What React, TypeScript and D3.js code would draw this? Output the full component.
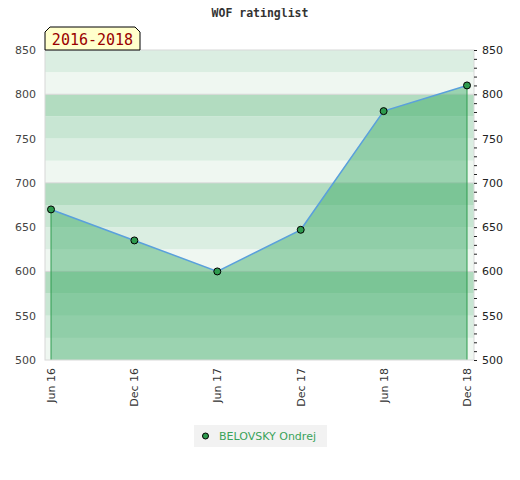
import React from "react";
import * as d3 from "d3";

const dates = ["2016-06-01", "2016-12-01", "2017-06-01", "2017-12-01", "2018-06-01", "2018-12-01"];
const tickLabels = ["Jun 16", "Dec 16", "Jun 17", "Dec 17", "Jun 18", "Dec 18"];
const ratings = [670, 635, 600, 647, 781, 810];
const yTicks = [500, 550, 600, 650, 700, 750, 800, 850];
const playerName = "BELOVSKY Ondrej";
const periodLabel = "2016-2018";

const width = 520;
const height = 480;
const plot = { left: 45, right: 474, top: 50, bottom: 360 };

// stripe colours by (value mod 100) of the band's lower edge
const stripeColors: Record<number, string> = {
  0: "#eff7f1",
  25: "#dbeee2",
  50: "#c8e6d3",
  75: "#b2dcc0",
};

const App: React.FC = () => {
  const parse = d3.timeParse("%Y-%m-%d");
  const points = dates.map((d, i) => ({ date: parse(d)!, value: ratings[i] }));

  const x = d3
    .scaleTime()
    .domain(d3.extent(points, (d) => d.date) as [Date, Date])
    .range([plot.left + 6, plot.right - 7]);
  const y = d3.scaleLinear().domain([500, 850]).range([plot.bottom, plot.top]);

  const bands = d3.range(500, 850, 25);
  const minorTicks = d3.range(500, 851, 10);

  const line = d3
    .line<{ date: Date; value: number }>()
    .x((d) => x(d.date))
    .y((d) => y(d.value));
  const area = d3
    .area<{ date: Date; value: number }>()
    .x((d) => x(d.date))
    .y0(plot.bottom)
    .y1((d) => y(d.value));

  const first = points[0];
  const last = points[points.length - 1];
  const font = "'DejaVu Sans', Verdana, sans-serif";

  return (
    <svg width={width} height={height} style={{ display: "block", margin: -8 }}>
      <rect width={width} height={height} fill="#fff" />
      <text
        x={260}
        y={17}
        textAnchor="middle"
        fontFamily="'DejaVu Sans Mono', monospace"
        fontWeight="bold"
        fontSize={11.5}
        fill="#333"
      >
        WOF ratinglist
      </text>

      {bands.map((b) => (
        <rect
          key={b}
          x={plot.left}
          width={plot.right - plot.left}
          y={y(b + 25)}
          height={y(b) - y(b + 25)}
          fill={stripeColors[b % 100]}
        />
      ))}
      {[600, 700, 800].map((v) => (
        <line key={v} x1={plot.left} x2={plot.right} y1={y(v)} y2={y(v)} stroke="#d6d6d6" />
      ))}

      <path d={area(points)!} fill="rgb(63,172,105)" fillOpacity={0.48} />
      <line x1={x(first.date)} x2={x(first.date)} y1={y(first.value)} y2={plot.bottom} stroke="#2e9b4e" />
      <line x1={x(last.date)} x2={x(last.date)} y1={y(last.value)} y2={plot.bottom} stroke="#2e9b4e" />
      <path d={line(points)!} fill="none" stroke="#5aa0dc" strokeWidth={1.5} />

      <rect
        x={plot.left}
        y={plot.top}
        width={plot.right - plot.left}
        height={plot.bottom - plot.top}
        fill="none"
        stroke="#d8d8d8"
      />

      {points.map((p, i) => (
        <circle key={i} cx={x(p.date)} cy={y(p.value)} r={3.5} fill="#2e9b4e" stroke="#000" strokeWidth={1} />
      ))}

      {minorTicks.map((v) => (
        <line key={v} x1={plot.right} x2={plot.right + 3} y1={y(v) + 0.5} y2={y(v) + 0.5} stroke="#222" />
      ))}

      {yTicks.map((v) => (
        <g key={v} fontFamily={font} fontSize={11} fill="#444">
          <text x={36} y={y(v) + 4} textAnchor="end">
            {v}
          </text>
          <text x={482} y={y(v) + 4} textAnchor="start" fill="#222">
            {v}
          </text>
        </g>
      ))}

      {points.map((p, i) => (
        <text
          key={i}
          transform={`translate(${x(p.date) + 4},${plot.bottom + 8}) rotate(-90)`}
          textAnchor="end"
          fontFamily={font}
          fontSize={11}
          fill="#333"
        >
          {tickLabels[i]}
        </text>
      ))}

      <path
        d={`M${plot.left},${plot.top} L${plot.left},32 L${plot.left + 5},27 L135,27 L140,32 L140,${plot.top} Z`}
        fill="#ffffcc"
        stroke="#000"
      />
      <text
        x={92.5}
        y={45}
        textAnchor="middle"
        fontFamily="'DejaVu Sans Mono', monospace"
        fontSize={15}
        fill="#990000"
      >
        {periodLabel}
      </text>

      <rect x={194} y={425} width={133} height={22} fill="#f2f2f2" />
      <circle cx={205.5} cy={436} r={3} fill="#2e9b4e" stroke="#000" />
      <text x={219} y={440} fontFamily={font} fontSize={11} fill="#3aa35a">
        {playerName}
      </text>
    </svg>
  );
};

export default App;
